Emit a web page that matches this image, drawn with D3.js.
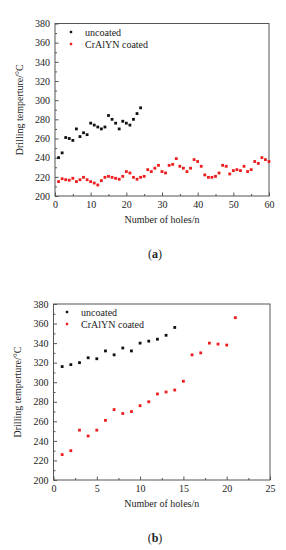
<!DOCTYPE html>
<html><head><meta charset="utf-8">
<script src="https://cdn.jsdelivr.net/npm/d3@7"></script>
<style>body{margin:0;background:#fff}svg{display:block}text{font-family:"Liberation Serif","Times New Roman",serif}</style>
</head><body>
<script>
// Chart (a)
const aUncoatedHoles = [1,2,3,4,5,6,7,8,9,10,11,12,13,14,15,16,17,18,19,20,21,22,23,24];
const aUncoatedTemp = [240,245,261,260,258,270,262,266,264,276,274,272,270,272,284,280,276,270,278,276,274,280,286,292];
const aCoatedHoles = [1,2,3,4,5,6,7,8,9,10,11,12,13,14,15,16,17,18,19,20,21,22,23,24,25,26,27,28,29,30,31,32,33,34,35,36,37,38,39,40,41,42,43,44,45,46,47,48,49,50,51,52,53,54,55,56,57,58,59,60];
const aCoatedTemp = [215,218,217,216.5,218.5,215,217,219.5,217,215,213.5,211.5,216,219.5,220.5,219.5,218.5,217.5,220.5,225.5,224,219.5,217.5,219.5,220.5,227.5,225.5,229,232,225.5,224,232,233,239,231,229,225.5,229,238,236,231,222,219.5,219.5,220.5,224,232,231,223,226.5,227.5,226.5,231,225.5,227.5,236,234,240,238,236];
// Chart (b)
const bUncoatedHoles = [1,2,3,4,5,6,7,8,9,10,11,12,13,14];
const bUncoatedTemp = [316,318,320,325,324,332,328,335,332,340,342,344,348,356];
const bCoatedHoles = [1,2,3,4,5,6,7,8,9,10,11,12,13,14,15,16,17,18,19,20,21];
const bCoatedTemp = [226,230,251,245,251,261,272,268,270,276,280,288,290,292,301,328,330,340,339,338,366];

const yTicks = [200,220,240,260,280,300,320,340,360,380];
const yMinor = [210,230,250,270,290,310,330,350,370];
const aXTicks = [0,10,20,30,40,50,60];
const aXMinor = [5,15,25,35,45,55];
const bXTicks = [0,5,10,15,20,25];
const bXMinor = [2.5,7.5,12.5,17.5,22.5];
const legendLabels = ["uncoated","CrAlYN coated"];
const colors = ["#111111","#ee1c1c"];
const yTitle = "Drilling temperture/°C";
const xTitle = "Number of holes/n";

const svg = d3.select("body").append("svg").attr("width",286).attr("height",550);
const FONT = "'Liberation Serif', 'Times New Roman', serif";

function panel(cfg){
  const g = svg.append("g");
  const x = d3.scaleLinear().domain(cfg.xDomain).range([cfg.left, cfg.right]);
  const y = d3.scaleLinear().domain([200,380]).range([cfg.bottom, cfg.top]);
  const axisColor = "#555";
  g.append("rect").attr("x",cfg.left).attr("y",cfg.top).attr("width",cfg.right-cfg.left).attr("height",cfg.bottom-cfg.top)
    .attr("fill","none").attr("stroke",axisColor).attr("stroke-width",1);
  g.append("g").attr("transform",`translate(0,${cfg.bottom})`)
    .call(d3.axisBottom(x).tickValues(cfg.xTicks).tickSize(-3.5).tickPadding(5).tickFormat(d3.format("d")));
  g.append("g").attr("transform",`translate(0,${cfg.bottom})`)
    .call(d3.axisBottom(x).tickValues(cfg.xMinor).tickSize(-2).tickFormat(""));
  g.append("g").attr("transform",`translate(${cfg.left},0)`)
    .call(d3.axisLeft(y).tickValues(yTicks).tickSize(-3.5).tickPadding(5));
  g.append("g").attr("transform",`translate(${cfg.left},0)`)
    .call(d3.axisLeft(y).tickValues(yMinor).tickSize(-2).tickFormat(""));
  g.selectAll(".domain").remove();
  g.selectAll("g").attr("font-family",FONT);
  g.selectAll(".tick line").attr("stroke",axisColor);
  g.selectAll(".tick text").attr("fill","#222").style("font-size","10px");
  g.append("text").attr("x",(cfg.left+cfg.right)/2).attr("y",cfg.bottom+27).attr("text-anchor","middle")
    .style("font-size","10px").attr("fill","#222").text(xTitle);
  g.append("text").attr("transform",`translate(${cfg.yTitleX},${(cfg.top+cfg.bottom)/2}) rotate(-90)`).attr("text-anchor","middle")
    .style("font-size","10px").attr("fill","#222").text(yTitle);
  const s = 2.8;
  g.append("g").selectAll("rect").data(cfg.coatedHoles.map((h,i)=>[h,cfg.coatedTemp[i]])).join("rect")
    .attr("x",d=>x(d[0])-s/2).attr("y",d=>y(d[1])-s/2).attr("width",s).attr("height",s).attr("fill",colors[1]);
  g.append("g").selectAll("rect").data(cfg.uncHoles.map((h,i)=>[h,cfg.uncTemp[i]])).join("rect")
    .attr("x",d=>x(d[0])-s/2).attr("y",d=>y(d[1])-s/2).attr("width",s).attr("height",s).attr("fill",colors[0]);
  legendLabels.forEach((lab,i)=>{
    const ly = cfg.legY + i*12;
    g.append("rect").attr("x",cfg.legX-1.2).attr("y",ly-1.2).attr("width",2.4).attr("height",2.4).attr("fill",colors[i]);
    g.append("text").attr("x",cfg.legX+14).attr("y",ly+3.5).style("font-size","10px").attr("fill","#222").text(lab);
  });
  const lt = g.append("text").attr("x",cfg.labX).attr("y",cfg.labY).attr("text-anchor","middle").style("font-size","12px").attr("fill","#222");
  lt.append("tspan").text("(");
  lt.append("tspan").style("font-weight","bold").text(cfg.label);
  lt.append("tspan").text(")");
}

panel({xDomain:[0,60], left:55, right:269, top:23.5, bottom:196, xTicks:aXTicks, xMinor:aXMinor,
  uncHoles:aUncoatedHoles, uncTemp:aUncoatedTemp, coatedHoles:aCoatedHoles, coatedTemp:aCoatedTemp,
  legX:71, legY:32, yTitleX:23, label:"a", labX:155, labY:258});
panel({xDomain:[0,25], left:53.5, right:270, top:304, bottom:480, xTicks:bXTicks, xMinor:bXMinor,
  uncHoles:bUncoatedHoles, uncTemp:bUncoatedTemp, coatedHoles:bCoatedHoles, coatedTemp:bCoatedTemp,
  legX:67, legY:312, yTitleX:21, label:"b", labX:155, labY:542});
</script>
</body></html>
